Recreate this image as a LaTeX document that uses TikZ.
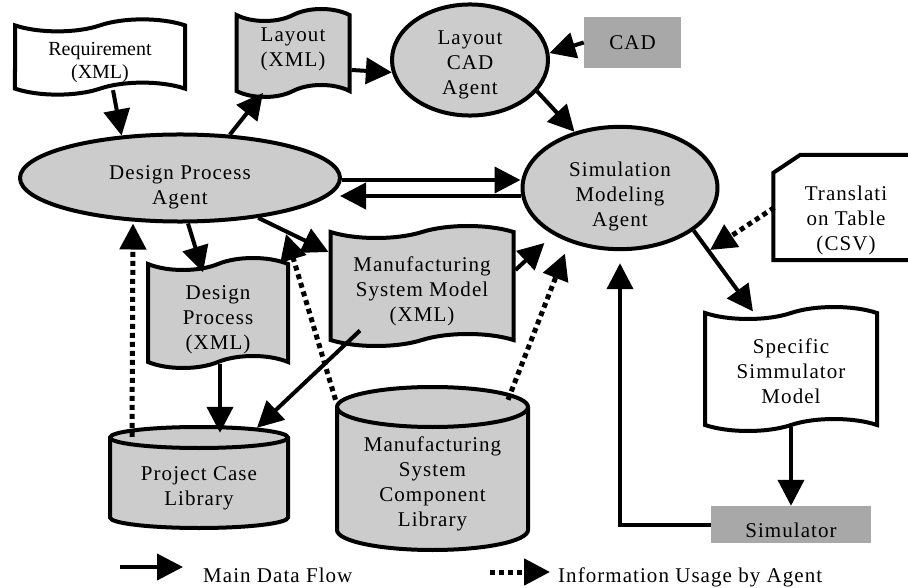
\documentclass[tikz,border=0pt]{standalone}
\usepackage{fontspec}
\setmainfont{Liberation Serif}[LetterSpace=5]
\usetikzlibrary{shapes.geometric,shapes.symbols,arrows.meta}
\definecolor{shadeA}{gray}{0.80}
\definecolor{shadeB}{gray}{0.66}
\newcommand\tpad[1]{\rule{0pt}{#1}}
\newcommand\bpad[1]{\rule[-#1]{0pt}{#1}}
\begin{document}
\begin{tikzpicture}[x=1pt,y=-1pt,
  every node/.style={font=\fontsize{21}{25}\selectfont, align=center, inner sep=0pt},
  line/.style={line width=4pt},
  agent/.style={ellipse, draw, line width=4pt, fill=shadeA, inner sep=0pt},
  doc/.style={tape, draw, line width=4pt, tape bend top=in and out, tape bend bottom=in and out, tape bend height=12pt, inner sep=0pt},
  flow/.style={line width=4pt, -{Triangle[length=26pt,width=26pt]}},
  usage/.style={line width=5pt, dash pattern=on 5pt off 4pt, -{Triangle[length=26pt,width=26pt]}},
  tool/.style={rectangle, fill=shadeB, inner sep=0pt},
  cyl/.style={line width=4pt, fill=shadeA, draw},
]
\useasboundingbox (0,0) rectangle (908,588);

% cylinders (drawn first as background shapes)
\filldraw[cyl] (110,437.5) -- (110,517.5) arc[start angle=180,end angle=0,x radius=89,y radius=10.5] -- (288,437.5) arc[start angle=0,end angle=-180,x radius=89,y radius=10.5] -- cycle;
\draw[line] (110,437.5) arc[start angle=180,end angle=0,x radius=89,y radius=10.5];
\node[minimum width=178pt, minimum height=80pt] (pcl) at (199,488) {Project Case\\Library};

\filldraw[cyl] (337,407) -- (337,530) arc[start angle=180,end angle=0,x radius=95.5,y radius=20] -- (528,407) arc[start angle=0,end angle=-180,x radius=95.5,y radius=20] -- cycle;
\draw[line] (337,407) arc[start angle=180,end angle=0,x radius=95.5,y radius=20];
\node[minimum width=191pt, minimum height=122pt] (mscl) at (432.5,489) {Manufacturing\\System\\Component\\Library\bpad{15pt}};

% nodes
\node[doc, fill=white, minimum width=170pt, minimum height=72pt, font=\fontsize{20}{23}\selectfont] (req) at (100,57) {\addfontfeature{LetterSpace=0}\tpad{24pt}Requirement\\\addfontfeature{LetterSpace=0}(XML)};
\node[doc, fill=shadeA, minimum width=113pt, minimum height=88pt] (lay) at (293,53) {Layout\\(XML)\bpad{12pt}};
\node[agent, minimum width=156pt, minimum height=100pt] (lca) at (470,60) {\tpad{24pt}Layout\\CAD\\Agent};
\node[tool, minimum width=97pt, minimum height=51pt] (cad) at (632.5,42.5) {CAD};
\node[agent, minimum width=320pt, minimum height=86pt] (dpa) at (180,178) {\tpad{32pt}Design Process\\Agent};
\node[agent, minimum width=195pt, minimum height=104pt] (sma) at (620,188) {\tpad{32pt}Simulation\\Modeling\\Agent};
\node[minimum width=145pt, minimum height=105pt] (tt) at (846,207.5) {\tpad{40pt}Translati\\on Table\\(CSV)};
\draw[line] (tt.south west) -- ([yshift=-18pt]tt.north west) -- ([xshift=27pt]tt.north west) -- (tt.north east) -- (tt.south east) -- cycle;
\node[doc, fill=shadeA, minimum width=140pt, minimum height=110pt] (dp) at (218,313) {\tpad{28pt}Design\\Process\\(XML)};
\node[doc, fill=shadeA, minimum width=183pt, minimum height=120pt] (msm) at (422,286) {\tpad{26pt}Manufacturing\\System Model\\(XML)};
\node[doc, fill=white, minimum width=172pt, minimum height=124pt] (ssm) at (791,369) {\tpad{20pt}Specific\\Simmulator\\Model};
\node[tool, minimum width=160pt, minimum height=37pt] (sim) at (791,524.5) {\tpad{26pt}Simulator};

% connectors
\draw[flow] ([xshift=13pt]req.south) -- (dpa.144);
\draw[flow] (dpa.41) -- ([xshift=-30pt]lay.south);
\draw[flow] ([yshift=-17pt]lay.east) -- (lca.189);
\draw[flow] (cad.west) -- (lca.5);
\draw[flow] (lca.-25) -- (sma.129);
\draw[flow] ([yshift=-2pt]dpa.east) -- ([yshift=8pt]sma.west);
\draw[flow] ([yshift=-8pt]sma.west) -- ([xshift=-2pt,yshift=-18pt]dpa.east);
\draw[flow] (dpa.-80) -- ([xshift=-15pt,yshift=-10pt]dp.north);
\draw[flow] (dpa.-27) -- ([yshift=34pt]msm.west);
\draw[flow] ([xshift=2pt]dp.south) -- ([xshift=21pt,yshift=15pt]pcl.north);
\draw[flow] ([xshift=-62pt,yshift=11pt]msm.south) -- ([xshift=58pt,yshift=20pt]pcl.north);
\draw[flow, shorten >=12pt] ([yshift=16pt]msm.east) -- (sma.215);
\draw[usage, shorten >=12pt] ([xshift=75.5pt,yshift=28pt]mscl.north) -- (sma.227);
\coordinate (dpmsm) at (286,234);
\draw[usage] ([xshift=-97pt,yshift=28pt]mscl.north) -- (dpmsm);
\draw[usage] ([xshift=-67pt,yshift=11pt]pcl.north) -- ([xshift=-47pt]dpa.south);
\draw[flow] (sma.-30) -- ([xshift=-38pt]ssm.north);
\coordinate (ttend) at (710,250);
\draw[usage] ([xshift=1pt]tt.west) -- (ttend);
\draw[flow] (ssm.south) -- (sim.north);
\draw[flow] (sim.west) -| ([yshift=-12pt]sma.south);

% legend
\coordinate (lega) at (120,567);
\coordinate (legb) at (183,567);
\draw[flow] (lega) -- (legb);
\node[anchor=base west] (legt1) at (203,582) {Main Data Flow};
\coordinate (legc) at (490,572);
\coordinate (legd) at (550,572);
\draw[usage] (legc) -- (legd);
\node[anchor=base west] (legt2) at (558,582) {Information Usage by Agent};
\end{tikzpicture}
\end{document}
